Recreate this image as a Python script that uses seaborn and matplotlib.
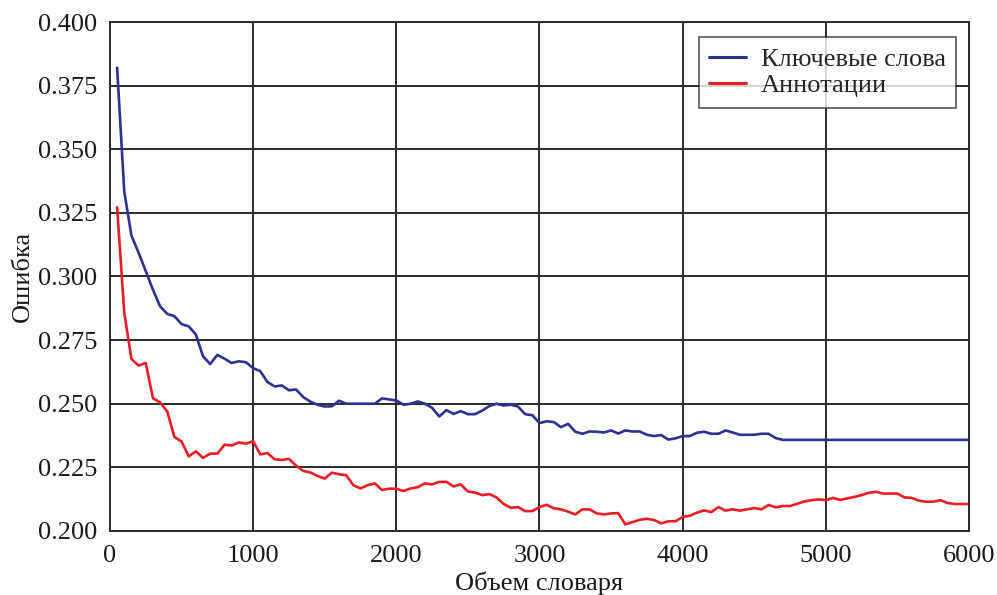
import numpy as np
import pandas as pd
import matplotlib
matplotlib.use("Agg")
import matplotlib.pyplot as plt
import seaborn as sns

# Vocabulary size (x) and classification error for the two feature sources
vocab_size = list(range(50, 6001, 50))

keywords_err = [
    0.3820, 0.3333, 0.3161, 0.3093, 0.3021, 0.2948, 0.2883, 0.2853, 0.2844, 0.2813,
    0.2804, 0.2772, 0.2686, 0.2656, 0.2692, 0.2677, 0.2660, 0.2667, 0.2663, 0.2640,
    0.2628, 0.2585, 0.2568, 0.2572, 0.2553, 0.2556, 0.2526, 0.2508, 0.2496, 0.2489,
    0.2490, 0.2512, 0.2500, 0.2500, 0.2500, 0.2500, 0.2500, 0.2521, 0.2517, 0.2513,
    0.2496, 0.2500, 0.2509, 0.2500, 0.2484, 0.2450, 0.2475, 0.2460, 0.2471, 0.2459,
    0.2459, 0.2473, 0.2491, 0.2500, 0.2493, 0.2496, 0.2489, 0.2459, 0.2455, 0.2424,
    0.2431, 0.2428, 0.2408, 0.2421, 0.2390, 0.2382, 0.2391, 0.2390, 0.2387, 0.2395,
    0.2383, 0.2395, 0.2391, 0.2391, 0.2378, 0.2373, 0.2377, 0.2359, 0.2364, 0.2373,
    0.2373, 0.2386, 0.2390, 0.2382, 0.2382, 0.2395, 0.2387, 0.2378, 0.2378, 0.2378,
    0.2382, 0.2382, 0.2365, 0.2358, 0.2358, 0.2358, 0.2358, 0.2358, 0.2358, 0.2358,
    0.2358, 0.2358, 0.2358, 0.2358, 0.2358, 0.2358, 0.2358, 0.2358, 0.2358, 0.2358,
    0.2358, 0.2358, 0.2358, 0.2358, 0.2358, 0.2358, 0.2358, 0.2358, 0.2358, 0.2358,
]

abstracts_err = [
    0.3272, 0.2857, 0.2676, 0.2650, 0.2660, 0.2522, 0.2505, 0.2470, 0.2369, 0.2352,
    0.2293, 0.2313, 0.2287, 0.2304, 0.2304, 0.2339, 0.2336, 0.2348, 0.2343, 0.2353,
    0.2301, 0.2306, 0.2282, 0.2279, 0.2283, 0.2257, 0.2236, 0.2230, 0.2216, 0.2206,
    0.2229, 0.2223, 0.2219, 0.2180, 0.2167, 0.2180, 0.2187, 0.2161, 0.2166, 0.2166,
    0.2157, 0.2167, 0.2172, 0.2187, 0.2183, 0.2193, 0.2193, 0.2175, 0.2183, 0.2155,
    0.2151, 0.2141, 0.2145, 0.2132, 0.2106, 0.2091, 0.2094, 0.2078, 0.2078, 0.2094,
    0.2103, 0.2089, 0.2085, 0.2076, 0.2065, 0.2085, 0.2085, 0.2069, 0.2065, 0.2069,
    0.2070, 0.2026, 0.2035, 0.2044, 0.2048, 0.2043, 0.2030, 0.2038, 0.2038, 0.2055,
    0.2060, 0.2072, 0.2081, 0.2074, 0.2094, 0.2080, 0.2085, 0.2080, 0.2085, 0.2090,
    0.2085, 0.2102, 0.2093, 0.2098, 0.2098, 0.2107, 0.2116, 0.2121, 0.2124, 0.2121,
    0.2130, 0.2122, 0.2128, 0.2134, 0.2141, 0.2150, 0.2154, 0.2147, 0.2147, 0.2147,
    0.2132, 0.2130, 0.2119, 0.2115, 0.2115, 0.2121, 0.2110, 0.2106, 0.2106, 0.2106,
]

series_names = ["Ключевые слова", "Аннотации"]
series_colors = {"Ключевые слова": "#2e3192", "Аннотации": "#ed1c24"}

x_ticks = [0, 1000, 2000, 3000, 4000, 5000, 6000]
y_ticks = [0.200, 0.225, 0.250, 0.275, 0.300, 0.325, 0.350, 0.375, 0.400]

df = pd.concat([
    pd.DataFrame({"size": vocab_size, "err": keywords_err, "series": series_names[0]}),
    pd.DataFrame({"size": vocab_size, "err": abstracts_err, "series": series_names[1]}),
])

sns.set_theme(style="white")
plt.rcParams["font.family"] = ["Liberation Serif", "DejaVu Serif"]

fig = plt.figure(figsize=(9.97, 5.95), dpi=100)
ax = fig.add_axes([0.1103, 0.1076, 0.8616, 0.8554])

sns.lineplot(data=df, x="size", y="err", hue="series", hue_order=series_names,
             palette=series_colors, estimator=None, sort=False,
             linewidth=1.9, ax=ax)

ax.set_xlim(0, 6000)
ax.set_ylim(0.2, 0.4)
ax.set_xticks(x_ticks)
ax.set_yticks(y_ticks)
ax.set_xticklabels([str(v) for v in x_ticks])
ax.set_yticklabels([f"{v:.3f}" for v in y_ticks])

ax.set_axisbelow(True)
ax.grid(True, color="#2b2b2b", linewidth=1.4)
for s in ax.spines.values():
    s.set_color("#2b2b2b")
    s.set_linewidth(1.4)
ax.tick_params(axis="y", length=0, labelsize=19, colors="#1a1a1a", pad=9)
ax.tick_params(axis="x", length=0, labelsize=19, colors="#1a1a1a", pad=10)

ax.set_xlabel("Объем словаря", fontsize=19, color="#1a1a1a", labelpad=3)
ax.set_ylabel("Ошибка", fontsize=19, color="#1a1a1a", labelpad=3)

leg = ax.legend(loc="upper right", bbox_to_anchor=(0.985, 0.9705), borderaxespad=0,
                fontsize=19, frameon=True, fancybox=False, edgecolor="#1a1a1a",
                handlelength=1.4, handletextpad=0.55, borderpad=0.4, labelspacing=0.1)
leg.get_frame().set_linewidth(1.1)
for line in leg.get_lines():
    line.set_linewidth(2.2)

fig.savefig("out.png", dpi=100, facecolor="white")
